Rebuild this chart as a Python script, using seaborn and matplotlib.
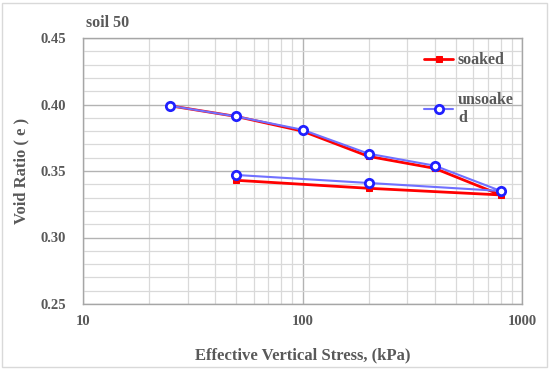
import numpy as np
import pandas as pd
import seaborn as sns
from matplotlib import pyplot as plt
from matplotlib.ticker import FixedLocator, MultipleLocator, NullFormatter

# data (loading then unloading path)
stress = [25, 50, 100, 200, 400, 800, 200, 50]
e_soaked = [0.399, 0.391, 0.380, 0.361, 0.352, 0.332, 0.337, 0.343]
e_unsoaked = [0.399, 0.391, 0.381, 0.363, 0.354, 0.335, 0.341, 0.347]

x_ticks = [10, 100, 1000]
y_ticks = [0.25, 0.30, 0.35, 0.40, 0.45]

sns.set_style("white")
plt.rcParams['font.family'] = ['Liberation Serif', 'DejaVu Serif']
plt.rcParams['font.weight'] = 'bold'
grey = '#595959'

df = pd.DataFrame({'stress': stress, 'soaked': e_soaked, 'unsoaked': e_unsoaked})

fig = plt.figure(figsize=(5.5, 3.69), dpi=100)
ax = fig.add_axes([83 / 550, 1 - 304 / 369, 439 / 550, 266 / 369])

sns.lineplot(data=df, x='stress', y='soaked', sort=False, estimator=None, ax=ax,
             color='#ff0000', lw=2, marker='s', markersize=4.5, markeredgecolor='#ff0000',
             label='soaked')
sns.lineplot(data=df, x='stress', y='unsoaked', sort=False, estimator=None, ax=ax,
             color='#7070ff', lw=1.5, marker='o', markersize=6, markerfacecolor='white',
             markeredgecolor='#2020ff', markeredgewidth=2, label='unsoake\nd')

ax.set_xscale('log')
ax.set_xlim(10, 1000)
ax.set_ylim(0.25, 0.45)
ax.xaxis.set_major_locator(FixedLocator(x_ticks))
ax.set_xticklabels([str(t) for t in x_ticks], fontweight='bold')
ax.xaxis.set_minor_locator(FixedLocator([m * d for d in (10, 100) for m in range(2, 10)]))
ax.xaxis.set_minor_formatter(NullFormatter())
ax.yaxis.set_major_locator(FixedLocator(y_ticks))
ax.set_yticklabels([f"{t:.2f}" for t in y_ticks], fontweight='bold')
ax.yaxis.set_minor_locator(MultipleLocator(0.01))

ax.grid(which='major', color='#b3b3b3', lw=1.0)
ax.grid(which='minor', color='#d9d9d9', lw=0.9)
ax.set_axisbelow(True)
for s in ax.spines.values():
    s.set_color('#a6a6a6')
    s.set_linewidth(1.0)
ax.tick_params(which='both', length=0, labelsize=10.5, labelcolor=grey)
ax.tick_params(axis='y', pad=12)
ax.tick_params(axis='x', pad=8)

ax.set_xlabel("Effective Vertical Stress, (kPa)", fontsize=12, fontweight='bold',
              color=grey, labelpad=14)
ax.set_ylabel("Void Ratio ( e )", fontsize=12, fontweight='bold', color=grey, labelpad=8)
fig.text(86 / 550, 1 - 23 / 369, "soil 50", fontsize=11.5, fontweight='bold', color=grey,
         va='center', ha='left')

leg = ax.legend(loc='upper left', bbox_to_anchor=(0.745, 1.0), frameon=False,
                prop={'size': 11.5, 'weight': 'bold'}, labelspacing=1.45,
                handlelength=1.8, handletextpad=0.3)
for t in leg.get_texts():
    t.set_color(grey)

fig.patches.append(plt.Rectangle((0.004, 0.006), 0.99, 0.985, transform=fig.transFigure,
                                 fill=False, edgecolor='#d9d9d9', lw=1))
fig.savefig("out.png", dpi=100)
